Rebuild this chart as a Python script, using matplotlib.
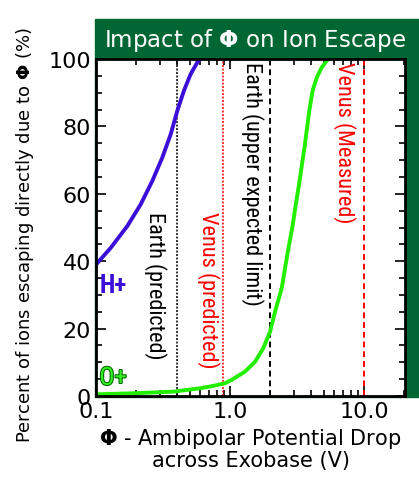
import numpy as np
import matplotlib.pyplot as plt
from matplotlib import font_manager
import matplotlib.patheffects as pe

plt.rcParams["font.family"] = ["DejaVu Sans"]

# pick a narrow face for the rotated labels if one is installed
fonts = font_manager.fontManager.ttflist
names = {f.name for f in fonts}
narrow = None
for cand in ["Liberation Sans Narrow", "Roboto Condensed", "Open Sans Condensed",
             "DejaVu Sans Condensed", "Noto Sans Condensed"]:
    if cand in names:
        narrow = dict(family=[cand, "DejaVu Sans"])
        break
if narrow is None:
    if any(f.name == "DejaVu Sans" and f.stretch == "condensed" for f in fonts):
        narrow = dict(family=["DejaVu Sans"], stretch="condensed")
    else:
        narrow = dict(family=["DejaVu Sans"])

# curve values
h_x = [0.1, 0.129, 0.171, 0.215, 0.263, 0.312, 0.361, 0.404, 0.453, 0.508,
       0.57, 0.6]
h_y = [39, 44, 50.4, 56.8, 63.8, 70.7, 77.7, 84.6, 90.6, 95.5, 99, 100]
o_x = [0.1, 0.19, 0.38, 0.6, 0.75, 0.92, 1.03, 1.29, 1.54, 1.77, 1.99, 2.17,
       2.43, 2.70, 2.92, 3.07, 3.33, 3.62, 3.9, 4.13, 4.44, 4.83, 5.39]
o_y = [0.5, 0.8, 1.3, 2.3, 3.0, 3.8, 4.8, 7.2, 10.2, 14.2, 19.1, 25.1,
       32.0, 42.9, 50.2, 55.9, 64.8, 74.7, 84.6, 90.6, 94.5, 97.5, 100]

# reference potentials (V)
ref_x = [0.4, 0.89, 2.0, 10.0]
ref_labels = ["Earth (predicted)", "Venus (predicted)",
              "Earth (upper expected limit)", "Venus (Measured)"]
ref_colors = ["black", "red", "black", "red"]
ref_styles = [(0, (1, 0.8)), (0, (1, 0.8)), (0, (3, 2)), (0, (3, 2))]
ref_label_top = [54.8, 54.8, 99.3, 99.3]
ref_label_off = [0.69, 0.77, 0.74, 0.72]

fig = plt.figure(figsize=(4.19, 4.85), dpi=100)
dark = "#006633"
fig.patches.append(plt.Rectangle((95 / 419, 87 / 485), 1 - 95 / 419, 378 / 485,
                                 transform=fig.transFigure, color=dark, zorder=0))
ax = fig.add_axes([96 / 419, 88 / 485, 309 / 419, 337 / 485])
ax.set_zorder(2)

for x, lab, c, ls, top, off in zip(ref_x, ref_labels, ref_colors, ref_styles,
                                   ref_label_top, ref_label_off):
    ax.axvline(x, color=c, ls=ls, lw=1.4, alpha=0.8 if ls == (0, (1, 0.8)) else 1)
    ax.text(x * off, top, lab, rotation=-90, color=c, fontsize=16,
            ha="center", va="top", **narrow)

ax.plot(h_x, h_y, color="#3a10d8", lw=2.8, solid_capstyle="butt")
ax.plot(o_x, o_y, color="#22ee00", lw=2.8, solid_capstyle="butt")

ax.text(0.106, 33, "H+", color="#3a10d8", fontsize=18, fontweight="bold",
        va="center", **narrow)
ax.text(0.106, 5.4, "O+", color="#33ee22", fontsize=18, va="center",
        path_effects=[pe.withStroke(linewidth=1.5, foreground="#006600")], **narrow)

ax.set_xscale("log")
ax.set_xlim(0.1, 20.2)
ax.set_ylim(0, 100)
ax.set_xticks([0.1, 1.0, 10.0])
ax.set_xticklabels(["0.1", "1.0", "10.0"])
ax.set_yticks([0, 20, 40, 60, 80, 100])
ax.set_yticks(np.arange(0, 101, 5), minor=True)
ax.tick_params(which="both", direction="in", top=True, right=True,
               labelsize=16, width=1.2)
ax.tick_params(which="major", length=7)
ax.tick_params(which="minor", length=4)
for s in ax.spines.values():
    s.set_linewidth(2)

ax.set_xlabel(r"$\mathbf{\Phi}$ - Ambipolar Potential Drop" + "\nacross Exobase (V)",
              fontsize=15, linespacing=1.0)
ax.set_ylabel(r"Percent of ions escaping directly due to $\mathbf{\Phi}$ (%)",
              fontsize=13)
ax.yaxis.set_label_coords(-0.195, 0.48)

fig.text(255 / 419, 1 - 40 / 485, r"Impact of $\mathbf{\Phi}$ on Ion Escape",
         color="white", fontsize=16.5, ha="center", va="center")

fig.savefig("out.png", dpi=100)
